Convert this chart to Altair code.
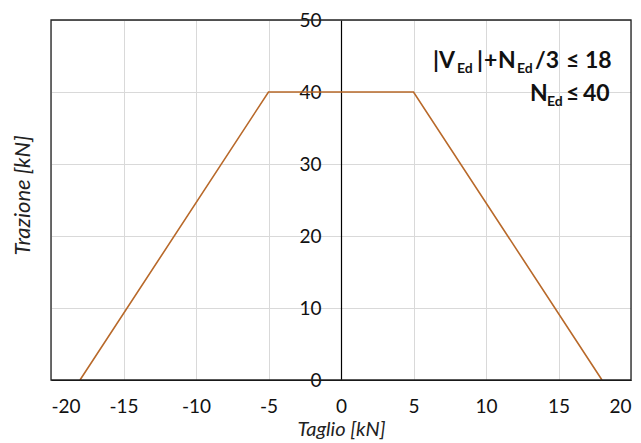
import altair as alt
import pandas as pd

# Data
taglio = [-18, -5, 5, 18]
trazione = [0, 40, 40, 0]
x_ticks = [-20, -15, -10, -5, 0, 5, 10, 15, 20]
y_ticks = [0, 10, 20, 30, 40, 50]

df = pd.DataFrame({"Taglio": taglio, "Trazione": trazione})

FONT = "Lato"
W, H = 580, 360

line = alt.Chart(df).mark_line(color="#B8692A", strokeWidth=1.6).encode(
    x=alt.X("Taglio:Q",
            scale=alt.Scale(domain=[-20, 20], nice=False, zero=False),
            axis=alt.Axis(values=x_ticks, title="Taglio [kN]", ticks=False,
                          labelExpr="datum.value + ''",
                          domain=True, domainColor="black", domainWidth=1.2,
                          grid=True, gridColor="#d9d9d9", gridWidth=1,
                          labelFont=FONT, labelFontSize=19, labelColor="#111",
                          labelPadding=17, titleFont=FONT, titleFontSize=20,
                          titleFontStyle="italic", titleFontWeight="normal",
                          titleColor="#222", titlePadding=3)),
    y=alt.Y("Trazione:Q",
            scale=alt.Scale(domain=[0, 50], nice=False),
            axis=alt.Axis(values=y_ticks, title="Trazione [kN]", ticks=False,
                          offset=-W / 2, domain=True, domainColor="black",
                          domainWidth=1.2, grid=True, gridColor="#d9d9d9",
                          gridWidth=1, labelFont=FONT, labelFontSize=19,
                          labelColor="#111", labelPadding=20,
                          titleFont=FONT, titleFontSize=22,
                          titleFontStyle="italic", titleFontWeight="normal",
                          titleColor="#222", titleAngle=-90,
                          titleX=-W / 2 - 29, titleY=H / 2 - 5,
                          titleAlign="center", titleBaseline="middle")),
    order=alt.Order("Taglio:Q"),
)

frame = alt.Chart(pd.DataFrame({"a": [0]})).mark_rect(
    fill=None, stroke="#222", strokeWidth=1.3
).encode(x=alt.value(0), x2=alt.value(W), y=alt.value(0), y2=alt.value(H))

# annotation segments: text, x px, baseline y px, size
segments = [
    ("|", 433, 68, 23), ("V", 439, 68, 23), ("Ed", 457, 73, 14),
    ("|", 477, 68, 23), ("+", 484, 68, 23), ("N", 498, 68, 23),
    ("Ed", 517, 73, 14), ("/3", 535, 68, 23), ("≤", 566, 68, 23),
    ("18", 585, 68, 23),
    ("N", 530, 101, 23), ("Ed", 547, 106, 14), ("≤", 566, 101, 23),
    ("40", 583, 101, 23),
]

layers = [line, frame]
for txt, px, py, sz in segments:
    layers.append(
        alt.Chart(pd.DataFrame({"t": [txt]})).mark_text(
            align="left", baseline="alphabetic", font=FONT, fontWeight="bold",
            fontSize=sz, color="#111"
        ).encode(text="t:N", x=alt.value(px - 51), y=alt.value(py - 20))
    )

chart = alt.layer(*layers).properties(
    width=W, height=H,
    autosize=alt.AutoSizeParams(type="none"),
    padding={"left": 43, "top": 12, "right": 2, "bottom": 63},
).configure_view(stroke="black", strokeWidth=1.2).configure(background="white")

chart.save("out.html", embed_options={"renderer": "svg", "actions": False})
